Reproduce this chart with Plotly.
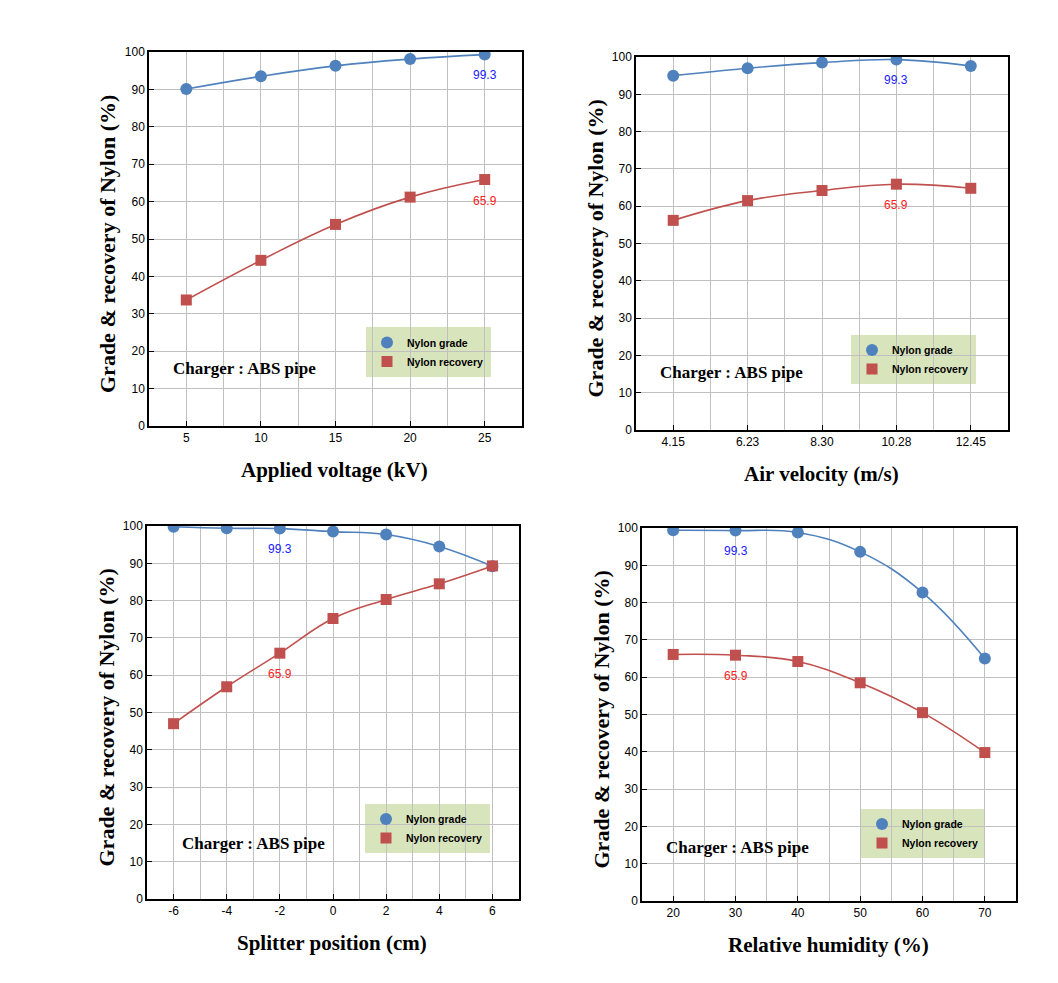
import plotly.graph_objects as go

# ---------------- data ----------------
voltage = [5, 10, 15, 20, 25]
voltage_grade = [90.1, 93.5, 96.3, 98.1, 99.3]
voltage_recovery = [33.7, 44.3, 53.9, 61.2, 65.9]

velocity_labels = ["4.15", "6.23", "8.30", "10.28", "12.45"]
velocity_grade = [95.0, 97.0, 98.5, 99.3, 97.6]
velocity_recovery = [56.2, 61.5, 64.2, 65.9, 64.8]

splitter = [-6, -4, -2, 0, 2, 4, 6]
splitter_grade = [99.8, 99.4, 99.3, 98.5, 97.7, 94.5, 89.2]
splitter_recovery = [47.0, 56.9, 65.9, 75.2, 80.3, 84.5, 89.3]

humidity = [20, 30, 40, 50, 60, 70]
humidity_grade = [99.4, 99.3, 98.8, 93.6, 82.7, 65.0]
humidity_recovery = [66.1, 65.9, 64.2, 58.5, 50.5, 39.8]

x_titles = ["Applied voltage (kV)", "Air velocity (m/s)",
            "Splitter position (cm)", "Relative humidity (%)"]
y_title = "Grade & recovery of Nylon (%)"
note_text = "Charger : ABS pipe"
best_grade_label = "99.3"
best_recovery_label = "65.9"
# x position of the labelled optimum in each panel
best_x = [25, 3, -2, 30]

# ---------------- styling ----------------
W, H = 1058, 983
BLUE = "#4F81BD"
RED = "#C0504D"
GRID = "#C0C0C0"
LEG_BG = "#D8E4BC"
SANS = "Liberation Sans, Arial, sans-serif"
SERIF = "Liberation Serif, Times New Roman, serif"

# panel boxes in pixels: (left, right, top, bottom)
boxes = [(149, 522, 52, 426), (636, 1008, 57, 430),
         (147, 519, 526, 899), (642, 1016, 528, 901)]
legend_boxes = [(366, 491, 327, 377), (851, 976, 335, 384),
                (365, 490, 804, 853), (861, 985, 809, 858)]
note_pos = [(171, 369), (658, 373), (180, 843), (664, 847)]

xranges = [[2.5, 27.5], [-0.5, 4.5], [-7, 7], [15, 75]]
xdticks = [5, 1, 2, 10]
xminor = [2.5, 0.5, 1, 5]

xs = [voltage, list(range(len(velocity_labels))), splitter, humidity]
grades = [voltage_grade, velocity_grade, splitter_grade, humidity_grade]
recs = [voltage_recovery, velocity_recovery, splitter_recovery, humidity_recovery]


def px_x(p):
    return p / W


def px_y(p):
    return 1 - p / H


fig = go.Figure()
layout = dict(width=W, height=H, margin=dict(l=0, r=0, t=0, b=0, pad=0),
              autosize=False,
              paper_bgcolor="white", plot_bgcolor="white",
              font=dict(family=SANS, size=12, color="black"))
annotations = []
shapes = []

for i in range(4):
    n = "" if i == 0 else str(i + 1)
    xa, ya = "x" + n, "y" + n
    lg = "legend" + n
    L, R, T, B = boxes[i]
    xaxis = dict(domain=[px_x(L), px_x(R)], anchor=ya, range=xranges[i],
                 automargin=False,
                 showline=True, linecolor="black", linewidth=1.5, mirror=True,
                 ticks="inside", ticklen=5, tickcolor="black", tickwidth=1,
                 showgrid=True, gridcolor=GRID, gridwidth=1, zeroline=False,
                 tickfont=dict(family=SANS, size=12, color="black"),
                 minor=dict(dtick=xminor[i], tick0=0, showgrid=True,
                            gridcolor=GRID, gridwidth=1, ticks=""))
    if i == 1:
        xaxis.update(tickmode="array", tickvals=xs[1], ticktext=velocity_labels)
    elif i == 2:
        xaxis.update(tickmode="array", tickvals=splitter,
                     ticktext=[str(v) for v in splitter])
    else:
        xaxis.update(dtick=xdticks[i], tick0=0)
    yaxis = dict(domain=[px_y(B), px_y(T)], anchor=xa, range=[0, 100],
                 automargin=False,
                 dtick=10, showline=True, linecolor="black", linewidth=1.5,
                 mirror=True, ticks="inside", ticklen=5, tickcolor="black",
                 showgrid=True, gridcolor=GRID, gridwidth=1, zeroline=False,
                 tickfont=dict(family=SANS, size=12, color="black"))
    layout["xaxis" + n] = xaxis
    layout["yaxis" + n] = yaxis

    fig.add_trace(go.Scatter(x=xs[i], y=grades[i], mode="lines+markers",
                             line=dict(color=BLUE, width=1.6, shape="spline", smoothing=1.2),
                             marker=dict(symbol="circle", size=12, color=BLUE),
                             xaxis=xa, yaxis=ya, showlegend=False))
    fig.add_trace(go.Scatter(x=xs[i], y=recs[i], mode="lines+markers",
                             line=dict(color=RED, width=1.6, shape="spline", smoothing=1.2),
                             marker=dict(symbol="square", size=11, color=RED),
                             xaxis=xa, yaxis=ya, showlegend=False))
    # legend entries
    fig.add_trace(go.Scatter(x=[None], y=[None], mode="markers", name="Nylon grade",
                             marker=dict(symbol="circle", size=12, color=BLUE),
                             xaxis=xa, yaxis=ya, legend=lg))
    fig.add_trace(go.Scatter(x=[None], y=[None], mode="markers", name="Nylon recovery",
                             marker=dict(symbol="square", size=11, color=RED),
                             xaxis=xa, yaxis=ya, legend=lg))

    lL, lR, lT, lB = legend_boxes[i]
    shapes.append(dict(type="rect", xref="paper", yref="paper",
                       x0=px_x(lL), x1=px_x(lR), y0=px_y(lB), y1=px_y(lT),
                       fillcolor=LEG_BG, line=dict(width=0), layer="below"))
    layout[lg] = dict(x=px_x(lL + 1), y=px_y((lT + lB) / 2), xanchor="left", yanchor="middle",
                      bgcolor="rgba(0,0,0,0)", borderwidth=0,
                      font=dict(family=SANS, size=10.5, color="black", weight="bold"),
                      tracegroupgap=0, itemsizing="trace")

    # value labels
    bi = xs[i].index(best_x[i]) if i != 1 else best_x[i]
    annotations.append(dict(x=best_x[i], y=grades[i][bi], xref=xa, yref=ya,
                            text=best_grade_label, showarrow=False, yshift=-20,
                            font=dict(family=SANS, size=12, color="#2020FF")))
    annotations.append(dict(x=best_x[i], y=recs[i][bi], xref=xa, yref=ya,
                            text=best_recovery_label, showarrow=False, yshift=-21,
                            font=dict(family=SANS, size=12, color="#FF2020")))

    # "Charger : ABS pipe"
    nx, ny = note_pos[i]
    annotations.append(dict(x=px_x(nx), y=px_y(ny), xref="paper", yref="paper",
                            xanchor="left", yanchor="middle", showarrow=False,
                            text="<b>%s</b>" % note_text,
                            font=dict(family=SERIF, size=17, color="black")))
    # axis titles
    annotations.append(dict(x=px_x((L + R) / 2 - 1), y=px_y(B + 44), xref="paper", yref="paper",
                            xanchor="center", yanchor="middle", showarrow=False,
                            text="<b>%s</b>" % x_titles[i],
                            font=dict(family=SERIF, size=21, color="black")))
    annotations.append(dict(x=px_x(L - 41), y=px_y((T + B) / 2 + 5), xref="paper", yref="paper",
                            xanchor="center", yanchor="middle", showarrow=False,
                            textangle=-90, text="<b>%s</b>" % y_title,
                            font=dict(family=SERIF, size=22, color="black")))

layout["annotations"] = annotations
layout["shapes"] = shapes
fig.update_layout(**layout)
fig.write_html("out.html", config={"displayModeBar": False},
               post_script="document.body.style.margin='0';document.body.style.overflow='hidden';")
